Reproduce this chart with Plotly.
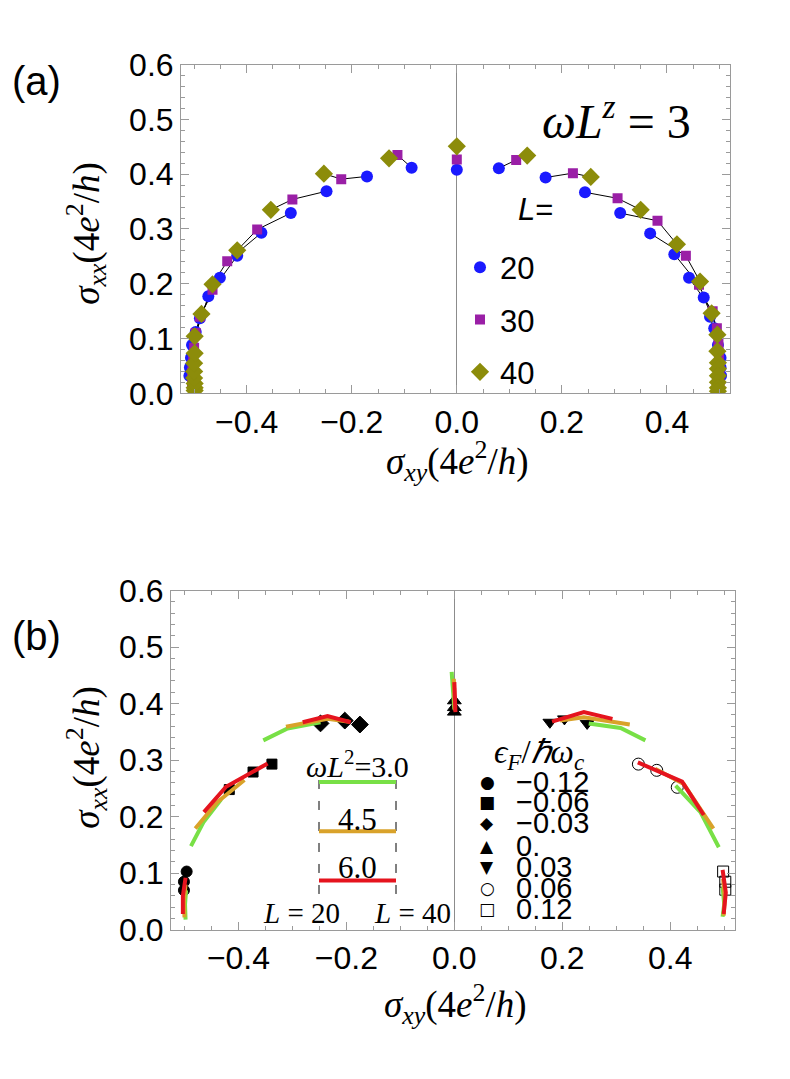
import plotly.graph_objects as go

W, H = 790, 1079

# ---------------- panel (a): wL^z = 3, one (L=20, 30, 40) triple per Fermi energy
a_L20_sxy = [-0.509, -0.508, -0.506, -0.504, -0.497, -0.489, -0.473, -0.451, -0.418, -0.372, -0.316, -0.248, -0.171, -0.086,
             0.0,
             0.080, 0.169, 0.244, 0.311, 0.368, 0.414, 0.442, 0.470, 0.482, 0.490, 0.497, 0.502, 0.502, 0.503]
a_L20_sxx = [0.032, 0.047, 0.065, 0.088, 0.112, 0.137, 0.177, 0.211, 0.251, 0.293, 0.329, 0.369, 0.396, 0.412,
             0.408,
             0.411, 0.394, 0.367, 0.329, 0.292, 0.254, 0.211, 0.175, 0.140, 0.119, 0.088, 0.065, 0.047, 0.032]
a_L30_sxy = [-0.504, -0.504, -0.504, -0.503, -0.502, -0.500, -0.497, -0.489, -0.465, -0.437, -0.380, -0.313, -0.220, -0.113,
             0.0,
             0.113, 0.221, 0.306, 0.382, 0.436, 0.461, 0.487, 0.495, 0.498, 0.499, 0.500, 0.500, 0.500, 0.500]
a_L30_sxx = [0.015, 0.025, 0.038, 0.052, 0.068, 0.083, 0.110, 0.140, 0.189, 0.241, 0.299, 0.354, 0.391, 0.435,
             0.427,
             0.426, 0.402, 0.356, 0.315, 0.251, 0.198, 0.150, 0.119, 0.090, 0.068, 0.052, 0.038, 0.025, 0.015]
a_L40_sxy = [-0.499, -0.499, -0.499, -0.500, -0.500, -0.500, -0.499, -0.499, -0.486, -0.465, -0.418, -0.354, -0.253, -0.129,
             0.0,
             0.134, 0.255, 0.350, 0.419, 0.463, 0.485, 0.496, 0.496, 0.497, 0.497, 0.497, 0.497, 0.497, 0.497]
a_L40_sxx = [0.005, 0.010, 0.018, 0.028, 0.040, 0.055, 0.073, 0.104, 0.145, 0.199, 0.261, 0.335, 0.401, 0.429,
             0.451,
             0.434, 0.395, 0.335, 0.272, 0.204, 0.146, 0.107, 0.077, 0.056, 0.045, 0.032, 0.020, 0.010, 0.004]

# ---------------- panel (b): markers at L = 20, 30, 40 for each eF / hbar wc
eps_labels = ["\u22120.12", "\u22120.06", "\u22120.03", "0.", "0.03", "0.06", "0.12"]
eps_symbols = ["circle", "square", "diamond", "triangle-up", "triangle-down", "circle-open", "square-open"]
eps_glyphs = ["\u25cf", "\u25a0", "\u25c6", "\u25b2", "\u25bc", "\u25cb", "\u25a1"]
eps_sizes = [11, 10, 13, 12, 12, 12, 11]
b_sxy = [[-0.496, -0.501, -0.501], [-0.338, -0.373, -0.417], [-0.175, -0.203, -0.248], [0.0, 0.0, 0.0],
         [0.177, 0.204, 0.246], [0.341, 0.375, 0.413], [0.498, 0.502, 0.502]]
b_sxx = [[0.103, 0.085, 0.070], [0.293, 0.279, 0.248], [0.363, 0.370, 0.365], [0.405, 0.393, 0.385],
         [0.367, 0.373, 0.365], [0.293, 0.282, 0.252], [0.103, 0.085, 0.071]]

# flow curves, L = 20 -> 40, for wL^2 = 3.0, 4.5, 6.0
w30_sxy = [[-0.497, -0.499, -0.498], [-0.432, -0.465, -0.488], [-0.248, -0.309, -0.354], [0.0, -0.002, -0.005],
           [0.249, 0.308, 0.354], [0.410, 0.456, 0.490], [0.497, 0.500, 0.497]]
w30_sxx = [[0.070, 0.045, 0.018], [0.231, 0.190, 0.148], [0.367, 0.356, 0.335], [0.390, 0.420, 0.456],
           [0.365, 0.357, 0.335], [0.255, 0.208, 0.146], [0.075, 0.045, 0.023]]
w45_sxy = [[-0.498, -0.501, -0.500], [-0.389, -0.440, -0.480], [-0.195, -0.235, -0.312], [0.001, 0.0, -0.001],
           [0.196, 0.240, 0.325], [0.372, 0.425, 0.480], [0.498, 0.501, 0.499]]
w45_sxx = [[0.080, 0.052, 0.022], [0.265, 0.225, 0.179], [0.368, 0.373, 0.359], [0.388, 0.415, 0.444],
           [0.370, 0.376, 0.363], [0.285, 0.258, 0.179], [0.090, 0.055, 0.025]]
w60_sxy = [[-0.498, -0.503, -0.503], [-0.346, -0.423, -0.464], [-0.192, -0.235, -0.281], [0.002, 0.001, 0.0],
           [0.181, 0.240, 0.293], [0.340, 0.422, 0.462], [0.497, 0.503, 0.499]]
w60_sxx = [[0.092, 0.060, 0.028], [0.294, 0.253, 0.208], [0.367, 0.378, 0.367], [0.385, 0.410, 0.438],
           [0.368, 0.385, 0.373], [0.296, 0.262, 0.203], [0.106, 0.066, 0.028]]

omega_labels = ["3.0", "4.5", "6.0"]
green, gold, red = "#78e046", "#d9a22a", "#e5141e"


def px(x):
    return x / W


def py(y):
    return 1 - y / H


fig = go.Figure()

# (a) black connectors, then markers
for i in range(len(a_L20_sxy)):
    fig.add_trace(go.Scatter(
        x=[a_L40_sxy[i], a_L30_sxy[i], a_L20_sxy[i]],
        y=[a_L40_sxx[i], a_L30_sxx[i], a_L20_sxx[i]],
        mode="lines", line=dict(color="black", width=1),
        showlegend=False, hoverinfo="skip", xaxis="x", yaxis="y"))

for name, xs, ys, sym, col, size in [
    ("20", a_L20_sxy, a_L20_sxx, "circle", "#1a1aff", 12),
    ("30", a_L30_sxy, a_L30_sxx, "square", "#9a1fa6", 10),
    ("40", a_L40_sxy, a_L40_sxx, "diamond", "#8c8c0a", 14),
]:
    fig.add_trace(go.Scatter(
        x=xs, y=ys, mode="markers", name=name, legendgroup=name,
        marker=dict(symbol=sym, color=col, size=size, line=dict(width=0)),
        xaxis="x", yaxis="y"))

# (b) markers, then flow curves on top
for i in range(len(eps_labels)):
    fig.add_trace(go.Scatter(
        x=b_sxy[i], y=b_sxx[i], mode="markers", showlegend=False,
        marker=dict(symbol=eps_symbols[i], color="black", size=eps_sizes[i],
                    line=dict(color="black", width=1)),
        xaxis="x2", yaxis="y2"))

for xs, ys, col in [(w30_sxy, w30_sxx, green), (w45_sxy, w45_sxx, gold), (w60_sxy, w60_sxx, red)]:
    for i in range(len(eps_labels)):
        fig.add_trace(go.Scatter(
            x=xs[i], y=ys[i], mode="lines", showlegend=False,
            line=dict(color=col, width=4), xaxis="x2", yaxis="y2"))


def axis(rng, domain, anchor, dtick, minor, xaxis=False):
    d = dict(range=rng, domain=domain, anchor=anchor, showline=True, linecolor="#9a9a9a",
             linewidth=1, mirror="allticks", ticks="inside", ticklen=8, tickcolor="#9a9a9a",
             tick0=0, dtick=dtick, tickformat=".1f", showgrid=False,
             minor=dict(tick0=0, dtick=minor, ticks="inside", ticklen=4, tickcolor="#9a9a9a"),
             tickfont=dict(family="Liberation Sans", size=32, color="black"))
    if xaxis:
        d.update(zeroline=True, zerolinecolor="#8c8c8c", zerolinewidth=1)
    else:
        d.update(zeroline=False)
    return d


sans = "Liberation Sans"
serif = "Liberation Serif"
ann = []


def text(x, y, s, size, family=sans, angle=0, xanchor="center"):
    ann.append(dict(x=px(x), y=py(y), xref="paper", yref="paper", text=s, showarrow=False,
                    xanchor=xanchor, yanchor="middle", textangle=angle,
                    font=dict(family=family, size=size, color="black")))


sig_xx = "<i>\u03c3</i><sub><i>xx</i></sub>(4<i>e</i><sup>2</sup>/<i>h</i>)"
sig_xy = "<i>\u03c3</i><sub><i>xy</i></sub>(4<i>e</i><sup>2</sup>/<i>h</i>)"

text(28, 57, "(a)", 40)
text(28, 631, "(b)", 40)
text(78, 215, sig_xx, 37, serif, -90)
text(78, 757, sig_xx, 37, serif, -90)
text(449, 450, sig_xy, 37, serif)
text(447, 1012, sig_xy, 37, serif)
text(608, 95, "<i>\u03c9L<sup>z</sup></i> = 3", 48, serif)
text(508, 190, "<i>L</i>=", 31, sans, xanchor="left")

# (b) legend for eF
text(531, 754, "<i>\u03f5</i><sub><i>F</i></sub>/<i>\u210f\u03c9</i><sub><i>c</i></sub>", 33, serif)
row_y = [781.7, 803.3, 825, 848.3, 870, 891.7, 913.3]
for lab, g, yy in zip(eps_labels, eps_glyphs, row_y):
    text(479, yy, g, 17, "DejaVu Sans")
    text(506, yy, lab, 29, sans, xanchor="left")

# (b) schematic for wL^2
text(349, 763, "<i>\u03c9L</i><sup>2</sup>=3.0", 30, serif)
text(349, 821, omega_labels[1], 31, serif)
text(349, 871, omega_labels[2], 31, serif)
text(293, 918, "<i>L</i> = 20", 29, serif)
text(405, 918, "<i>L</i> = 40", 29, serif)

shapes = []
for xx in [311, 388]:
    shapes.append(dict(type="line", xref="paper", yref="paper", x0=px(xx), x1=px(xx),
                       y0=py(780), y1=py(907), line=dict(color="black", width=1, dash="9px,12px")))
for yy, col in [(782, green), (833, gold), (884, red)]:
    shapes.append(dict(type="line", xref="paper", yref="paper", x0=px(311), x1=px(388),
                       y0=py(yy), y1=py(yy), line=dict(color=col, width=4)))

fig.update_layout(
    width=W, height=H, margin=dict(l=0, r=0, t=0, b=0),
    paper_bgcolor="white", plot_bgcolor="white",
    xaxis=axis([-0.525, 0.52], [px(173), px(722)], "y", 0.2, 0.05, True),
    yaxis=axis([0, 0.6], [py(380), py(40)], "x", 0.1, 0.02),
    xaxis2=axis([-0.525, 0.52], [px(163), px(727)], "y2", 0.2, 0.05, True),
    yaxis2=axis([0, 0.6], [py(935), py(584)], "x2", 0.1, 0.02),
    legend=dict(x=px(452), y=py(222), xanchor="left", yanchor="top",
                font=dict(family=sans, size=31, color="black"),
                bgcolor="rgba(0,0,0,0)", tracegroupgap=9, itemsizing="trace"),
    annotations=ann, shapes=shapes,
)

fig.write_html("out.html")
